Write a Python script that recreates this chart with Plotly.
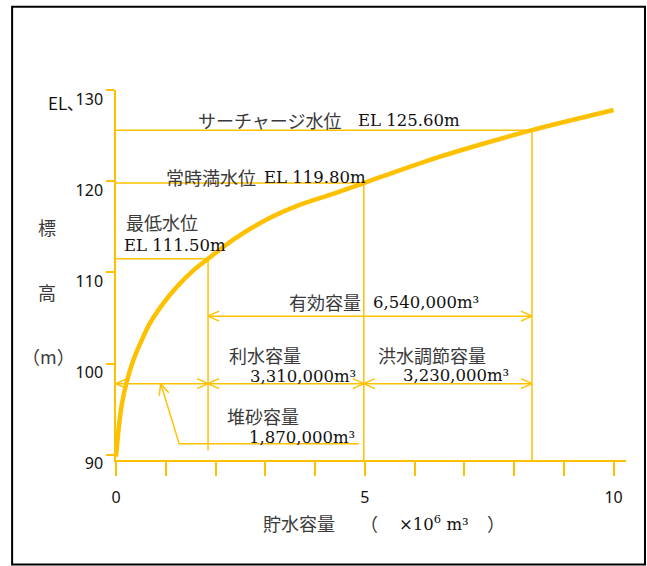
import math
import plotly.graph_objects as go

# ---------------- data ----------------
storage = [0.0, 0.05, 0.11, 0.21, 0.35, 0.52, 0.68, 0.95, 1.22, 1.55, 1.85,
           2.36, 3.03, 3.69, 4.36, 4.98, 6.31, 7.31, 8.36, 10.0]     # x10^6 m3
elevation = [89.8, 92.7, 95.3, 97.9, 100.4, 102.6, 104.4, 106.6, 108.4, 110.2,
             111.5, 113.6, 115.8, 117.4, 118.6, 119.8, 122.35, 124.0, 125.6,
             127.8]                                                     # EL m

level_names = ["最低水位", "常時満水位", "サーチャージ水位"]
level_elev = [111.5, 119.8, 125.6]
level_storage = [1.85, 4.98, 8.36]
level_texts = ["EL 111.50m", "EL 119.80m", "EL 125.60m"]

cap_names = ["有効容量", "利水容量", "洪水調節容量", "堆砂容量"]
cap_values = ["6,540,000m³", "3,310,000m³", "3,230,000m³", "1,870,000m³"]

row_effective = 105.2   # elevation of 有効容量 arrow
row_capacity = 97.8     # elevation of 利水/洪水 arrow row
leader_elev = 91.2      # elevation of 堆砂容量 leader line
leader_x = [4.88, 1.27, 0.90]

x_tickvals = [0, 5, 10]
x_ticktext = ["0", "5", "10"]
x_minorvals = [1, 2, 3, 4, 6, 7, 8, 9]
y_tickvals = [90, 100, 110, 120, 130]

# ---------------- layout geometry ----------------
W, H = 647, 566
ML, MR, MT, MB = 116, 20.5, 89.5, 105.7
XR = [0, 10.25]
YR = [89.43, 130]
PW = W - ML - MR
PH = H - MT - MB
SX = PW / (XR[1] - XR[0])
SY = PH / (YR[1] - YR[0])

GOLD = "#FFC000"
CJK = "Noto Sans CJK JP"
SERIF = "DejaVu Serif"
TXT = "#3a3a3a"
NUM = "#111111"


def pxp(px):
    return (px - ML) / PW


def pyp(py):
    return (H - MB - py) / PH


def chevron(tx, ty, ux, uy, L=11, Wd=5):
    n = math.hypot(ux, uy)
    ux, uy = ux / n, uy / n
    nx, ny = -uy, ux
    xs, ys = [], []
    for s in (1, -1):
        xs.append(tx + (-L * ux + s * Wd * nx) / SX)
        ys.append(ty + (-L * uy + s * Wd * ny) / SY)
    return [xs[0], tx, xs[1], None], [ys[0], ty, ys[1], None]


fig = go.Figure()

# thin guide lines
gx, gy = [], []
for e, s in zip(level_elev, level_storage):
    gx += [0, s, None]
    gy += [e, e, None]
gx += [level_storage[0], level_storage[0], None]
gy += [level_elev[0], 90.5, None]
for e, s in zip(level_elev[1:], level_storage[1:]):
    gx += [s, s, None]
    gy += [e, YR[0], None]
gx += [level_storage[0], level_storage[2], None]
gy += [row_effective, row_effective, None]
gx += [0, level_storage[2], None]
gy += [row_capacity, row_capacity, None]
gx += leader_x + [None]
gy += [leader_elev, leader_elev, row_capacity, None]

heads = [
    (level_storage[0], row_effective, -1, 0),
    (level_storage[2], row_effective, 1, 0),
    (0, row_capacity, -1, 0),
    (level_storage[0], row_capacity, 1, 0),
    (level_storage[0], row_capacity, -1, 0),
    (level_storage[1], row_capacity, 1, 0),
    (level_storage[1], row_capacity, -1, 0),
    (level_storage[2], row_capacity, 1, 0),
    (leader_x[2], row_capacity, (leader_x[2] - leader_x[1]) * SX,
     (row_capacity - leader_elev) * SY),
]
for tx, ty, ux, uy in heads:
    cx, cy = chevron(tx, ty, ux, uy)
    gx += cx
    gy += cy

fig.add_trace(go.Scatter(x=gx, y=gy, mode="lines",
                         line=dict(color=GOLD, width=1.5),
                         hoverinfo="skip", showlegend=False, cliponaxis=False))

fig.add_trace(go.Scatter(x=storage, y=elevation, mode="lines",
                         line=dict(color=GOLD, width=4.5, shape="spline", smoothing=0.8),
                         hoverinfo="skip", showlegend=False, cliponaxis=False))

ann = []


def add(text, px, py, family, size, color=TXT, anchor="left"):
    ann.append(dict(text=text, x=pxp(px), y=pyp(py), xref="paper", yref="paper",
                    xanchor=anchor, yanchor="middle", showarrow=False,
                    font=dict(family=family, size=size, color=color)))


CS, NS = 18, 16.5

# level labels
add(level_names[2], 196, 120, CJK, CS)
add(level_texts[2], 356, 120, SERIF, NS, NUM)
add(level_names[1], 164, 177, CJK, CS)
add(level_texts[1], 262, 177, SERIF, NS, NUM)
add(level_names[0], 124, 222, CJK, CS)
add(level_texts[0], 122, 245, SERIF, NS, NUM)

# capacity labels
add(cap_names[0], 287, 302, CJK, CS)
add(cap_values[0], 371, 302, SERIF, NS, NUM)
add(cap_names[1], 227, 355, CJK, CS)
add(cap_values[1], 248, 377, SERIF, NS, NUM)
add(cap_names[2], 376, 355, CJK, CS)
add(cap_values[2], 401, 376, SERIF, NS, NUM)
add(cap_names[3], 225, 416, CJK, CS)
add(cap_values[3], 247, 438, SERIF, NS, NUM)

# axis captions
add("EL､", 46, 102, CJK, 17, NUM)
add("標", 47, 227, CJK, CS, anchor="center")
add("高", 47, 292, CJK, CS, anchor="center")
add("（m）", 48, 356, CJK, CS, anchor="center")
add("貯水容量", 261, 523, CJK, CS)
add("（", 358, 523, CJK, CS)
add("×10<sup>6</sup> m³", 397, 523, SERIF, NS, NUM)
add("）", 485, 523, CJK, CS)

fig.update_layout(
    width=W, height=H,
    margin=dict(l=ML, r=MR, t=MT, b=MB, pad=0),
    paper_bgcolor="white", plot_bgcolor="white",
    annotations=ann,
    shapes=[dict(type="rect", xref="paper", yref="paper",
                 x0=pxp(12), x1=pxp(645.5), y0=pyp(565), y1=pyp(6),
                 line=dict(color="black", width=2), fillcolor="rgba(0,0,0,0)",
                 layer="above")],
    xaxis=dict(range=XR, showgrid=False, zeroline=False, showline=True,
               linecolor=GOLD, linewidth=1.5, ticks="outside", ticklen=14,
               tickwidth=1.5, tickcolor=GOLD, tickvals=x_tickvals,
               ticktext=x_ticktext, ticklabelstandoff=8,
               minor=dict(tickvals=x_minorvals, ticks="outside", ticklen=14,
                          tickwidth=1.5, tickcolor=GOLD, showgrid=False),
               tickfont=dict(family="Noto Sans", size=16, color=NUM)),
    yaxis=dict(range=YR, showgrid=False, zeroline=False, showline=True,
               linecolor=GOLD, linewidth=1.5, ticks="outside", ticklen=8,
               tickwidth=1.5, tickcolor=GOLD, tickvals=y_tickvals,
               ticklabelstandoff=0, ticklabelshift=9,
               tickfont=dict(family="Noto Sans", size=16, color=NUM)),
)

fig.write_html("out.html", config={"displayModeBar": False},
               post_script="document.body.style.margin='0px';document.body.style.overflow='hidden';")
